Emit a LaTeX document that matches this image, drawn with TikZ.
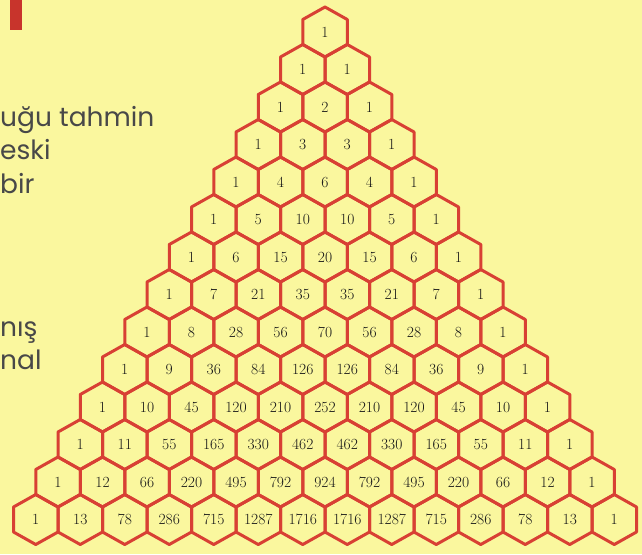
\documentclass[tikz,border=0pt]{standalone}
\usepackage{fontspec}
\usetikzlibrary{positioning}
\newfontfamily\gothic{Poppins}
\definecolor{bgyellow}{RGB}{250,247,158}
\definecolor{hexred}{RGB}{216,64,52}
\definecolor{barred}{RGB}{200,52,44}
\definecolor{textgray}{RGB}{72,72,72}

\begin{document}
\begin{tikzpicture}[
        x=1pt, y=-1pt,
        hexline/.style={draw=hexred, line width=3pt, line join=round},
        num/.style={font=\fontsize{15.5}{17}\selectfont, text=black!90, inner sep=0pt},
        side/.style={font=\gothic\fontsize{26.5}{30}\selectfont, text=textgray, anchor=base west, inner sep=0pt}
    ]
        % page
        \fill[bgyellow] (0,0) rectangle (642,554);
        \clip (0,0) rectangle (642,554);
        \fill[barred] (10,0) rectangle (22,30);

        % text on the left
        \node[side] (t1) at (0,126) {uğu tahmin};
        \node[side] (t2) at (0,159.5) {eski};
        \node[side] (t3) at (0,193) {bir};
        \node[side] (t4) at (0,336) {nış};
        \node[side] (t5) at (0,369.5) {nal};

        % pascal triangle
        \foreach \r/\vals in {
            0/{1},
            1/{1,1},
            2/{1,2,1},
            3/{1,3,3,1},
            4/{1,4,6,4,1},
            5/{1,5,10,10,5,1},
            6/{1,6,15,20,15,6,1},
            7/{1,7,21,35,35,21,7,1},
            8/{1,8,28,56,70,56,28,8,1},
            9/{1,9,36,84,126,126,84,36,9,1},
            10/{1,10,45,120,210,252,210,120,45,10,1},
            11/{1,11,55,165,330,462,462,330,165,55,11,1},
            12/{1,12,66,220,495,792,924,792,495,220,66,12,1},
            13/{1,13,78,286,715,1287,1716,1716,1287,715,286,78,13,1}}
        {
            \foreach \v [count=\k from 0] in \vals {
                \pgfmathsetmacro\xx{325+(\k-\r/2)*44.5}
                \pgfmathsetmacro\yy{32+\r*37.5}
                \node[num] (c-\r-\k) at (\xx,\yy) {\v};
                \draw[hexline] (c-\r-\k.center) +(0,-25) -- +(22.25,-12.5) -- +(22.25,12.5)
                    -- +(0,25) -- +(-22.25,12.5) -- +(-22.25,-12.5) -- cycle;
            }
        }
    \end{tikzpicture}
\end{document}
